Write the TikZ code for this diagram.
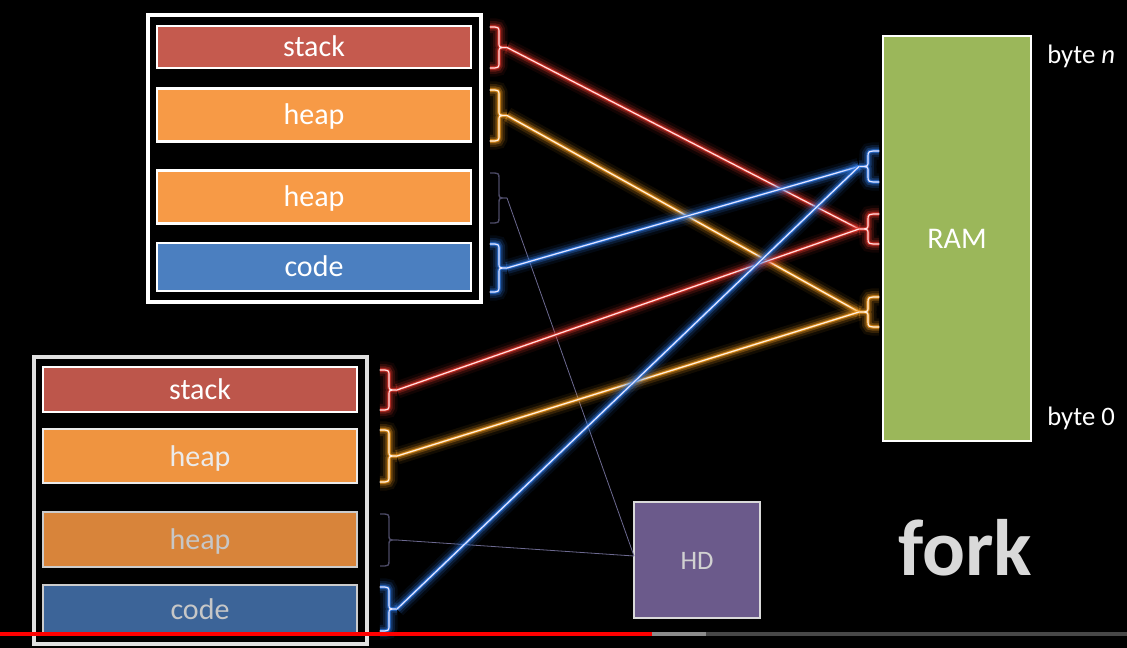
\documentclass[tikz,border=0pt]{standalone}
\usepackage{fontspec}
\setmainfont{Carlito}
\newcommand\pxu{0.75pt}
\definecolor{stackred}{HTML}{C55A4E}
\definecolor{heaporange}{HTML}{F79A46}
\definecolor{heapdim}{HTML}{EF9440}
\definecolor{heapdark}{HTML}{D8843A}
\definecolor{codeblue}{HTML}{4B7FC0}
\definecolor{codedark}{HTML}{3C6498}
\definecolor{ramgreen}{HTML}{9BB75A}
\definecolor{hdpurple}{HTML}{6B5A8B}
\definecolor{gred}{HTML}{E2362C}
\definecolor{gorange}{HTML}{F29A1E}
\definecolor{gblue}{HTML}{2F7BE6}
\definecolor{dimb}{HTML}{4C4A66}
\definecolor{diml}{HTML}{6C6990}
\newcommand\BraceR[5]{%
  \draw[#5] (#2,#3) .. controls ({#2+9},#3) .. ({#2+9},{#3+6}) -- ({#2+9},{(#3+#4)/2-5}) .. controls ({#2+9},{(#3+#4)/2}) .. ({#2+17},{(#3+#4)/2}) .. controls ({#2+9},{(#3+#4)/2}) .. ({#2+9},{(#3+#4)/2+5}) -- ({#2+9},{#4-6}) .. controls ({#2+9},#4) .. (#2,#4);
  \coordinate (#1) at ({#2+17},{(#3+#4)/2});}
\newcommand\BraceL[5]{%
  \draw[#5] (#2,#3) .. controls ({#2-11},#3) .. ({#2-11},{#3+6}) -- ({#2-11},{(#3+#4)/2-5}) .. controls ({#2-11},{(#3+#4)/2}) .. ({#2-20},{(#3+#4)/2}) .. controls ({#2-11},{(#3+#4)/2}) .. ({#2-11},{(#3+#4)/2+5}) -- ({#2-11},{#4-6}) .. controls ({#2-11},#4) .. (#2,#4);
  \coordinate (#1) at ({#2-20},{(#3+#4)/2});}
\tikzset{
  bar/.style={draw=white, line width=2.2pt, inner sep=0pt, minimum width=314*\pxu, text=white, text height=16pt, text depth=1pt, font=\fontsize{22.5}{24}\selectfont},
  frame/.style={draw=white, line width=2.4pt, inner sep=0pt},
  glow/.style n args={2}{draw=#2, line width=0.9pt, line cap=round, line join=round,
    preaction={draw=#1, line width=13pt, opacity=0.08},
    preaction={draw=#1, line width=9pt, opacity=0.16},
    preaction={draw=#1, line width=5.5pt, opacity=0.3},
    preaction={draw=#1, line width=2.8pt, opacity=0.55},
    preaction={draw=#1, line width=1.6pt, opacity=0.8}},
  glowred/.style={glow={gred}{red!12!white}},
  gloworange/.style={glow={gorange}{orange!12!white}},
  glowblue/.style={glow={gblue}{blue!10!white}},
  dimbrace/.style={draw=dimb, line width=1pt},
  dimline/.style={draw=diml, line width=0.6pt},
  label/.style={text=white, font=\fontsize{20}{22}\selectfont, inner sep=0pt}
}
\begin{document}
\begin{tikzpicture}[x=0.75pt,y=-0.75pt]
\fill[black] (0,0) rectangle (1127,648);
\useasboundingbox (0,0) rectangle (1127,648);
% top process
\node[frame, minimum width=333*\pxu, minimum height=287*\pxu] (top) at (314.5,158.5) {};
\node[bar, fill=stackred, minimum height=42*\pxu] (ts) at (314,47) {stack};
\node[bar, fill=heaporange, minimum height=53*\pxu] (th1) at (314,115) {heap};
\node[bar, fill=heaporange, minimum height=53*\pxu] (th2) at (314,197) {heap};
\node[bar, fill=codeblue, minimum height=48*\pxu] (tc) at (314,267) {code};
% bottom process
\node[frame, draw=white!88!black, minimum width=333*\pxu, minimum height=287*\pxu] (bot) at (200.5,500.5) {};
\node[bar, fill=stackred!96!black, minimum height=45*\pxu] (bs) at (200,389.5) {stack};
\node[bar, fill=heapdim, text=white!92!black, draw=white!92!black, minimum height=54*\pxu] (bh1) at (200,456) {heap};
\node[bar, fill=heapdark, text=white!78!black, draw=white!80!black, minimum height=55*\pxu] (bh2) at (200,539.5) {heap};
\node[bar, fill=codedark, text=white!78!black, draw=white!80!black, minimum height=48*\pxu] (bc) at (200,609) {code};
% RAM
\node[draw=white, line width=2.2pt, fill=ramgreen, minimum width=148*\pxu, minimum height=405*\pxu, text=white, text height=16pt, text depth=1pt, font=\fontsize{22.5}{24}\selectfont] (ram) at (957,238.5) {RAM};
\node[label, anchor=west] (bn) at (1047,56) {byte \textit{n}};
\node[label, anchor=west] (b0) at (1047,418) {byte 0};
% HD
\node[draw=white!85!black, line width=2pt, fill=hdpurple, minimum width=126*\pxu, minimum height=116*\pxu, text=white!82!black, text height=15pt, text depth=1pt, font=\fontsize{20}{22}\selectfont] (hd) at (697,560) {HD};
\coordinate (hdin) at (634,556);
\node[text=white!85!black, font=\bfseries\fontsize{60}{62}\selectfont] (fork) at (965,548) {fork};
% braces
\BraceR{tsB}{490}{27}{68}{glowred}
\BraceR{th1B}{490}{90}{141}{gloworange}
\BraceR{th2B}{490}{173}{223}{dimbrace}
\BraceR{tcB}{490}{244}{292}{glowblue}
\BraceR{bsB}{380}{370}{410}{glowred}
\BraceR{bh1B}{380}{430}{482}{gloworange}
\BraceR{bh2B}{380}{514}{566}{dimbrace}
\BraceR{bcB}{380}{587}{631}{glowblue}
\BraceL{rB}{879}{151}{182}{glowblue}
\BraceL{rR}{879}{214}{244}{glowred}
\BraceL{rO}{879}{297}{327}{gloworange}
% connectors
\draw[dimline] (th2B) -- (hdin);
\draw[dimline] (bh2B) -- (hdin);
\draw[glowred] (tsB) -- (rR);
\draw[gloworange] (th1B) -- (rO);
\draw[glowblue] (tcB) -- (rB);
\draw[glowred] (bsB) -- (rR);
\draw[gloworange] (bh1B) -- (rO);
\draw[glowblue] (bcB) -- (rB);
% progress bar
\draw[line width=2.4pt, draw=black!72] (706,634) -- (1127,634);
\draw[line width=2.4pt, draw=black!45] (652,634) -- (706,634);
\draw[line width=2.4pt, draw=red] (0,634) -- (652,634);
\end{tikzpicture}
\end{document}
